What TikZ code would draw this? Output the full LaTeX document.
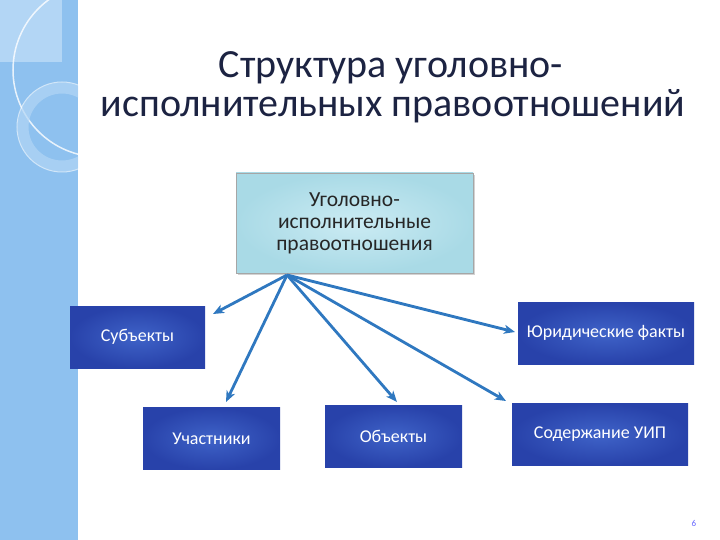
\documentclass[tikz,border=0pt]{standalone}
\usepackage{fontspec}
\setmainfont{Carlito}
\usepackage{tikz}
\usetikzlibrary{shadows}
\usetikzlibrary{arrows.meta}

\definecolor{stripe}{HTML}{8EC1EF}
\definecolor{stripelight}{HTML}{B3D6F5}
\definecolor{titlenavy}{HTML}{1C2342}
\definecolor{boxdark}{HTML}{2842AA}
\definecolor{boxmid}{HTML}{3F63C8}
\definecolor{arrowblue}{HTML}{2F78C0}
\definecolor{topin}{HTML}{CBEBF3}
\definecolor{topout}{HTML}{A9DAE6}

\tikzset{
  topbox/.style={draw=gray!70, line width=0.8pt, shading=radial, inner color=topin,
    outer color=topout, drop shadow={opacity=0.35}, minimum width=237pt,
    minimum height=100pt, align=center, text=black!85, font=\fontsize{21.5}{22}\selectfont},
  partbox/.style={shading=radial, inner color=boxmid, outer color=boxdark,
    minimum height=62pt, text=white, font=\fontsize{18}{20}\selectfont},
  link/.style={-{Stealth[length=11pt, width=9pt, inset=3pt]}, draw=arrowblue, line width=2.8pt},
}

\begin{document}
\begin{tikzpicture}[x=1pt, y=-1pt]
      \useasboundingbox (0, 0) rectangle (720, 540);
      \fill[white] (0, 0) rectangle (720, 540);
      % left stripe
      \fill[stripe] (0, 0) rectangle (78, 540);
      \fill[stripelight] (0, 0) rectangle (62, 62);
      \begin{scope}
        \clip (0, 0) rectangle (78, 540);
        \draw[white, line width=1.5pt, opacity=0.8] (100, 70) circle (87);
        \draw[stripelight, line width=11pt, opacity=0.7] (62, 127) circle (39);
        \draw[white, line width=1pt, opacity=0.6] (62, 127) circle (45);
      \end{scope}
      % title
      \node[titlenavy, font=\fontsize{40}{44}\selectfont] (title1) at (391, 68) {Структура уголовно-};
      \node[titlenavy, font=\fontsize{40}{44}\selectfont] (title2) at (393, 106) {исполнительных правоотношений};
      % boxes
      \node[topbox] (rel) at (354.5, 223) {Уголовно-\\исполнительные\\правоотношения};
      \node[partbox, minimum width=135pt] (subj) at (137.5, 337) {Субъекты};
      \node[partbox, minimum width=137pt] (uch) at (211.5, 438.5) {Участники};
      \node[partbox, minimum width=137pt] (obj) at (393.5, 436) {Объекты};
      \node[partbox, minimum width=176pt] (fact) at (606, 333) {Юридические факты};
      \node[partbox, minimum width=176pt] (sod) at (600, 434.5) {Содержание УИП};
      % arrows
      \coordinate (hub) at (287, 275);
      \coordinate (subjEnd) at (213, 314);
      \coordinate (uchEnd) at (226, 402);
      \coordinate (objEnd) at (397, 402);
      \coordinate (sodEnd) at (506, 401);
      \coordinate (factEnd) at (515, 332);
      \draw[link] (hub) -- (subjEnd);
      \draw[link] (hub) -- (uchEnd);
      \draw[link] (hub) -- (objEnd);
      \draw[link] (hub) -- (sodEnd);
      \draw[link] (hub) -- (factEnd);
      \node[text=blue!60, font=\fontsize{9}{10}\selectfont] (page) at (694, 523) {6};
    \end{tikzpicture}
\end{document}
